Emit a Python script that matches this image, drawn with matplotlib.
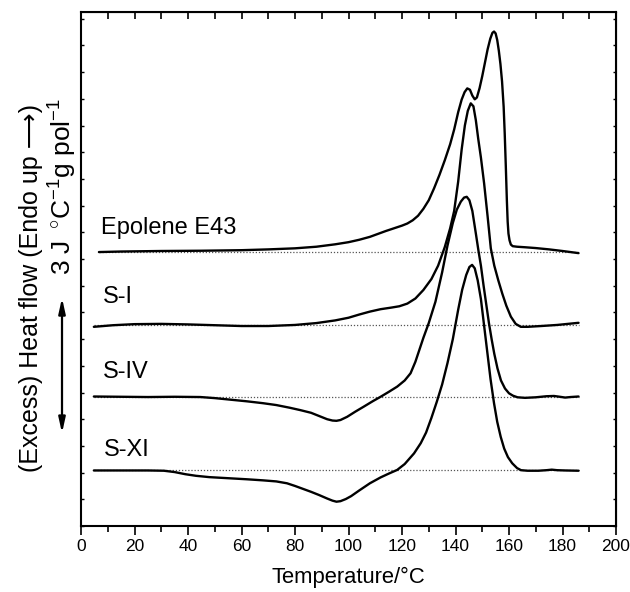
import matplotlib
matplotlib.use("Agg")
import matplotlib.pyplot as plt
from matplotlib.ticker import MultipleLocator

plt.rcParams['font.family'] = ['Liberation Sans', 'DejaVu Sans']
plt.rcParams['mathtext.fontset'] = 'custom'
plt.rcParams['mathtext.rm'] = 'Liberation Sans'
plt.rcParams['mathtext.it'] = 'Liberation Sans:italic'

# ---------------- data (temperature in °C, heat flow in plot units) ----------------
labels = ["Epolene E43", "S-I", "S-IV", "S-XI"]
baselines = [10.27, 7.53, 4.82, 2.09]

epolene_T = [6.7, 15, 30, 45, 60, 70, 80, 88, 95, 100, 104, 108, 111, 114, 117, 120, 122, 124,
             126, 128, 130, 132, 134, 136, 138, 139.5, 141, 142.3, 143.4, 144.4, 145.4, 146.3,
             147.2, 148, 149, 150, 151, 152, 153, 153.8, 154.4, 155, 155.6, 156.2, 156.8, 157.4,
             158, 158.4, 158.8, 159.2, 159.5, 159.8, 160.2, 160.7, 161.4, 163, 166, 170, 175,
             180, 186]
epolene_y = [10.26, 10.28, 10.30, 10.31, 10.33, 10.36, 10.40, 10.46, 10.55, 10.63, 10.72, 10.83,
             10.94, 11.05, 11.15, 11.25, 11.33, 11.45, 11.62, 11.88, 12.2, 12.65, 13.15, 13.7,
             14.3, 14.85, 15.5, 15.97, 16.25, 16.39, 16.34, 16.12, 15.98, 16.05, 16.4, 16.85,
             17.35, 17.85, 18.25, 18.47, 18.52, 18.45, 18.2, 17.8, 17.3, 16.65, 15.7, 14.7, 13.5,
             12.2, 11.4, 10.95, 10.7, 10.54, 10.48, 10.46, 10.44, 10.41, 10.36, 10.3, 10.22]

si_T = [4.8, 12, 20, 30, 40, 50, 60, 70, 80, 88, 95, 100, 104, 108, 112, 116, 119, 122, 125,
        128, 131, 133.5, 136, 138, 139.5, 141, 142.3, 143.5, 144.6, 145.7, 146.7, 147.6, 148.5,
        149.5, 150.7, 152, 153.2, 154.5, 156, 157.5, 159, 160.7, 162.5, 164.4, 167, 172, 178,
        183, 186]
si_y = [7.46, 7.52, 7.56, 7.57, 7.55, 7.52, 7.49, 7.49, 7.53, 7.6, 7.7, 7.8, 7.92, 8.03, 8.12,
        8.18, 8.23, 8.33, 8.52, 8.84, 9.25, 9.75, 10.45, 11.15, 11.8, 12.9, 14.1, 15.0, 15.55,
        15.83, 15.72, 15.2, 14.5, 13.8, 12.83, 11.6, 10.4, 9.75, 9.2, 8.7, 8.25, 7.84, 7.57,
        7.46, 7.46, 7.49, 7.53, 7.58, 7.61]

siv_T = [4.8, 15, 25, 35, 44.6, 50, 56, 62, 68, 73, 78, 82, 86, 89.5, 92, 94, 95.5, 97, 99.5,
         102.5, 105.7, 109, 112, 115, 118.2, 121, 123.2, 125, 126.5, 128, 130, 132.5, 135, 137,
         139, 140.5, 142, 143.2, 144.2, 145.2, 146.3, 147.6, 148.6, 149.5, 150.5, 151.5, 152.5,
         153.5, 154.5, 155.7, 157, 158.5, 160, 161.5, 163.2, 166, 170, 174, 176.8, 179, 181,
         183, 186]
siv_y = [4.85, 4.84, 4.83, 4.84, 4.83, 4.79, 4.73, 4.67, 4.6, 4.53, 4.43, 4.34, 4.24, 4.1, 4.0,
         3.95, 3.94, 3.97, 4.09, 4.28, 4.47, 4.67, 4.84, 5.02, 5.22, 5.45, 5.72, 6.15, 6.6, 7.05,
         7.6, 8.4, 9.5, 10.5, 11.35, 11.85, 12.15, 12.3, 12.33, 12.2, 11.8, 10.96, 10.3, 9.75,
         9.0, 8.3, 7.6, 7.0, 6.45, 5.9, 5.45, 5.15, 4.97, 4.88, 4.82, 4.8, 4.82, 4.86, 4.87,
         4.84, 4.81, 4.83, 4.85]

sxi_T = [4.8, 15, 25, 31, 35, 39, 43, 48, 55, 62, 68, 73, 77, 80, 83, 86, 89, 92, 94, 95.5, 97,
         99, 101, 104, 108, 112, 115, 118.2, 121, 124.5, 127, 129, 131, 133, 135, 137, 139, 141,
         142.5, 144, 145.2, 146.2, 147.2, 148.3, 149.5, 150.7, 151.9, 153.1, 154.4, 155.6, 156.9,
         158.2, 159.6, 161.2, 163, 164.5, 167, 171, 174, 176, 178, 181, 186]
sxi_y = [2.08, 2.08, 2.08, 2.07, 2.02, 1.94, 1.88, 1.83, 1.79, 1.75, 1.71, 1.67, 1.6, 1.5, 1.39,
         1.28, 1.16, 1.03, 0.95, 0.91, 0.93, 1.01, 1.12, 1.33, 1.6, 1.82, 1.96, 2.1, 2.32, 2.72,
         3.1, 3.5, 4.05, 4.65, 5.3, 6.1, 7.0, 8.1, 8.85, 9.4, 9.7, 9.78, 9.65, 9.2, 8.5, 7.5,
         6.5, 5.5, 4.6, 3.9, 3.34, 2.9, 2.58, 2.35, 2.17, 2.09, 2.07, 2.07, 2.09, 2.11, 2.09,
         2.08, 2.07]

series_T = [epolene_T, si_T, siv_T, sxi_T]
series_y = [epolene_y, si_y, siv_y, sxi_y]
label_pos = [(7.5, 11.16), (8.1, 8.59), (8.1, 5.78), (8.6, 2.85)]

x_ticks = list(range(0, 201, 20))
scale_bar = (3.48, 8.54)   # ends of the 3 J °C-1 g pol-1 bar in plot units

# ---------------- figure ----------------
fig = plt.figure(figsize=(6.30, 5.92), dpi=100)
ax = fig.add_axes([81/630, 1-526/592, (616-81)/630, (526-12.3)/592])

for T, y, base in zip(series_T, series_y, baselines):
    ax.plot([T[0], T[-1]], [base, base], linestyle=(0, (1, 1.5)), color='#555555', lw=0.9, zorder=1)
    ax.plot(T, y, color='black', lw=1.7, solid_joinstyle='round', solid_capstyle='round', zorder=2)

for lab, (tx, ty) in zip(labels, label_pos):
    ax.text(tx, ty, lab, fontsize=17, ha='left', va='center')

ax.set_xlim(0, 200)
ax.set_ylim(0, 19.24)
ax.set_xticks(x_ticks)
ax.xaxis.set_minor_locator(MultipleLocator(10))
ax.yaxis.set_major_locator(MultipleLocator(1))
ax.set_yticklabels([])
ax.tick_params(axis='x', which='major', direction='out', length=6.5, width=1.2, labelsize=12.5, pad=3)
ax.tick_params(axis='x', which='minor', direction='out', length=4.3, width=1.2)
ax.tick_params(axis='y', which='major', direction='in', length=2, width=1.0)
for s in ax.spines.values():
    s.set_linewidth(1.5)

top = ax.secondary_xaxis('top')
top.set_xticks(list(range(0, 201, 10)))
top.tick_params(direction='in', length=5, width=1.2, labeltop=False)
top.set_xticklabels([])
right = ax.secondary_yaxis('right')
right.yaxis.set_major_locator(MultipleLocator(1))
right.tick_params(direction='in', length=2, width=1.0, labelright=False)

ax.set_xlabel('Temperature/°C', fontsize=15.8, labelpad=9)

fig.text(31/630, 1-288/592, '(Excess) Heat flow (Endo up ⟶)', rotation=90, fontsize=18,
         ha='center', va='center')
fig.text(63/630, 1-187/592, r'3 J $\,^{\circ}$C$^{-1}$g pol$^{-1}$', rotation=90, fontsize=19,
         ha='center', va='center')
ax.annotate('', xy=(-0.0355, scale_bar[1]), xytext=(-0.0355, scale_bar[0]),
            xycoords=('axes fraction', 'data'), textcoords=('axes fraction', 'data'),
            arrowprops=dict(arrowstyle='<|-|>,head_length=0.9,head_width=0.2', lw=1.6,
                            color='black', shrinkA=0, shrinkB=0),
            annotation_clip=False)

fig.savefig('out.png', dpi=100)
